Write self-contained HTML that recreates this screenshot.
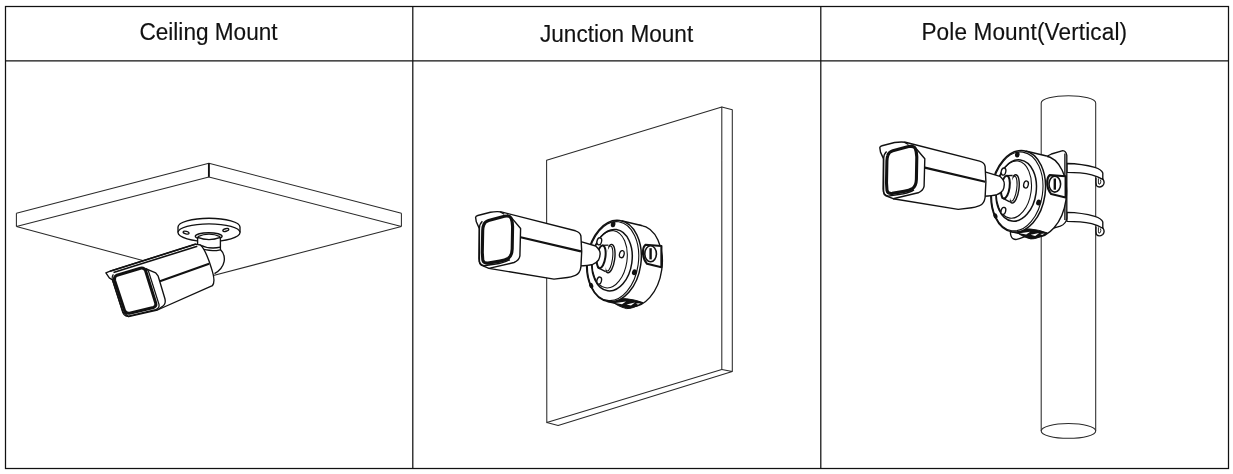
<!DOCTYPE html>
<html><head><meta charset="utf-8"><title>Mount</title>
<style>
html,body{margin:0;padding:0;background:#fff;}
body{width:1233px;height:474px;position:relative;overflow:hidden;font-family:"Liberation Sans",sans-serif;}
.h{position:absolute;top:0;height:30px;line-height:30px;font-size:22.6px;color:#111;text-align:center;white-space:nowrap;}
svg{position:absolute;left:0;top:0;filter:grayscale(1);}
</style></head><body>
<svg width="1233" height="474" viewBox="0 0 1233 474">
<g fill="none" stroke="#111" stroke-width="1.25">
<rect x="5.5" y="6.5" width="1223" height="462"/>
<path d="M5.5,60.8 H1228.5 M412.8,6.5 V468.5 M820.8,6.5 V468.5"/>
</g>

<g id="cell1" stroke-linejoin="round">
  <!-- slab -->
  <path d="M16.4,213.3 L208.9,163.3 L401.4,213.3 M16.4,226.4 L208.9,176.9 L401.4,226.4 M16.4,213.3 V226.4 M401.4,213.3 V226.4 M16.4,226.4 L205.7,277.5 L401.4,226.4" fill="none" stroke="#2a2a2a" stroke-width="1.05"/>
  <path d="M208.9,163.3 V176.9" fill="none" stroke="#111" stroke-width="1.9"/>
  <!-- mount base -->
  <path d="M178,232.6 V227 A31,8.8 0 0 1 240,227 V232.6" fill="#fff" stroke="#111" stroke-width="1.35"/>
  <ellipse cx="209" cy="232.6" rx="31" ry="8.8" fill="#fff" stroke="#111" stroke-width="1.35"/>
  <ellipse cx="186.1" cy="232.6" rx="3" ry="1.3" transform="rotate(14 186.1 232.6)" fill="none" stroke="#111" stroke-width="1.35"/>
  <ellipse cx="225.8" cy="230" rx="3" ry="1.3" transform="rotate(-14 225.8 230)" fill="none" stroke="#111" stroke-width="1.35"/>
  <!-- ball -->
  <path d="M214,250 L220.4,249.6 C226.8,256 225.8,267 214.5,273.6 L208,262 Z" fill="#fff" stroke="none"/>
  <path d="M220.4,249.6 C226.8,256 225.8,267 214.5,273.6" fill="none" stroke="#111" stroke-width="1.35"/>
  <!-- neck -->
  <ellipse cx="208.7" cy="236.3" rx="13.4" ry="3.6" fill="#fff" stroke="#111" stroke-width="1.35"/>
  <path d="M197.6,237.4 V247 Q209,252.5 220.4,249.8 V237.4 Q209,241.8 197.6,237.4 Z" fill="#fff" stroke="#111" stroke-width="1.35"/>
  <path d="M197.8,236.6 Q209,231.6 220.2,236.6" fill="none" stroke="#111" stroke-width="1.35"/>
  <path d="M199,244.6 Q209,249.7 220.4,247.2" fill="none" stroke="#111" stroke-width="1.35"/>
  <!-- body -->
  <path d="M110.1,271.2 L195.8,244.1 L200.6,245.2 C205,249 208.5,258.7 211.6,268.8 C214,276 215.5,282 212.4,285.7 L157.4,310 L128.7,316.7 L123,312 L112.5,280 L109.3,277.9 L105.9,272.8 Z" fill="#fff" stroke="#111" stroke-width="1.35"/>
  <path d="M113.5,272.6 L197.3,246.2" fill="none" stroke="#111" stroke-width="1.6"/>
  <path d="M110.1,271.2 L195.8,244.1" fill="none" stroke="#111" stroke-width="1.6"/>
  <!-- bezel -->
  <path d="M145.6,268.6 L155.7,272.8 L158.2,276.2 L165,299 Q166,303.5 163.3,305.8 L157.4,310" fill="none" stroke="#111" stroke-width="1.35"/>
  <!-- front ring -->
  <path d="M113.4,274.4 Q111.6,276.4 112.2,279 L122.8,312.5 Q124.4,316.6 128.6,316.2 L155.6,309.6 Q159.8,308 159,304.4 L148.6,271.6 Q147.6,269 145.6,268.6" fill="none" stroke="#111" stroke-width="1.3"/>
  <path d="M114.6,280.4 Q113.8,276.6 117,275.2 L140.4,268.2 Q144.2,267.4 145.6,270.8 L155.7,303 Q156.6,306.4 153.4,307.5 L129.6,313.2 Q126,313.7 124.6,310.6 Z" fill="#fff" stroke="#111" stroke-width="3"/>
  <!-- mid line -->
  <path d="M159.9,281.3 L209.1,263.8" fill="none" stroke="#111" stroke-width="2.1"/>
</g>


<g id="cell2" stroke-linejoin="round">
  <path d="M546.6,160.3 L721.8,106.9 V369.4 L546.8,422.6 Z" fill="#fff" stroke="#2a2a2a" stroke-width="1.05"/>
  <path d="M721.8,106.9 L732.3,109.7 V371.5 L721.8,369.4 M546.8,422.6 L558.1,425.5 L732.3,371.5" fill="none" stroke="#2a2a2a" stroke-width="1.05"/>
</g>


<g id="jbox">
  <ellipse cx="635.0" cy="266.0" rx="27.0" ry="41.0" transform="rotate(8 635.0 266.0)" fill="#fff" stroke="#111" stroke-width="1.4"/>
  <polygon points="606.6,301.3 627.6,306.3 642.4,225.7 621.4,220.7" fill="#fff" stroke="none"/>
  <path d="M606.6,301.3 L627.6,306.3 M621.4,220.7 L642.4,225.7" fill="none" stroke="#111" stroke-width="1.4"/>
  <!-- bottom conduit -->
  <path d="M610.3,299.6 Q626,296.4 643,302.6 Q633,309 626.5,308.6 Q616,306 610.3,299.6 Z" fill="#111" stroke="#111" stroke-width="1"/>
  <path d="M615.5,303 L626,301.4 L622,304.2 Z M626.5,304.4 L635,302.6 L631,305.6 Z M636,303.6 L640.5,303.2 L638,304.8 Z" fill="#fff" stroke="none"/>
  <!-- front face -->
  <ellipse cx="614.0" cy="261.0" rx="27.0" ry="41.0" transform="rotate(8 614.0 261.0)" fill="#fff" stroke="#111" stroke-width="1.5"/>
  <ellipse cx="613.1" cy="261.1" rx="25.3" ry="39.7" transform="rotate(8 613.1 261.1)" fill="none" stroke="#111" stroke-width="1.1"/>
  <!-- plate -->
  <ellipse cx="612" cy="260.2" rx="20" ry="30.9" transform="rotate(8 612 260.2)" fill="#fff" stroke="#111" stroke-width="1.5"/>
  <ellipse cx="609.7" cy="259.3" rx="17.3" ry="28.8" transform="rotate(8 609.7 259.3)" fill="none" stroke="#111" stroke-width="1.1"/>
  <!-- tube flange -->
  <ellipse cx="609.8" cy="258.6" rx="4.9" ry="14.3" transform="rotate(8 609.8 258.6)" fill="#fff" stroke="#111" stroke-width="1.4"/>
  <ellipse cx="608.9" cy="258.5" rx="3.6" ry="12.6" transform="rotate(8 608.9 258.5)" fill="#fff" stroke="#111" stroke-width="1.1"/>
  <path d="M608.4,245.6 L601.6,245.6 L597.6,267.6 L605.4,271.4 Z" fill="#fff" stroke="none"/>
  <path d="M608.4,245.2 L601.8,245.4 M605.6,271.6 L597.4,267.4" fill="none" stroke="#111" stroke-width="1.3"/>
  <ellipse cx="601.2" cy="256.8" rx="4.2" ry="11.5" transform="rotate(8 601.2 256.8)" fill="#fff" stroke="#111" stroke-width="2"/>
  <!-- screw holes -->
  <ellipse cx="599.3" cy="241.3" rx="2.3" ry="3.6" transform="rotate(14 599.3 241.3)" fill="#fff" stroke="#111" stroke-width="1.3"/>
  <ellipse cx="621.8" cy="254.2" rx="2.3" ry="3.6" transform="rotate(14 621.8 254.2)" fill="#fff" stroke="#111" stroke-width="1.3"/>
  <ellipse cx="599.2" cy="280.6" rx="2.3" ry="3.6" transform="rotate(14 599.2 280.6)" fill="#fff" stroke="#111" stroke-width="1.3"/>
  <!-- dots -->
  <ellipse cx="613.1" cy="224.3" rx="2.3" ry="3" transform="rotate(10 613.1 224.3)" fill="#111"/>
  <ellipse cx="634.4" cy="272.2" rx="2.4" ry="3" transform="rotate(20 634.4 272.2)" fill="#111"/>
  <ellipse cx="591.2" cy="285.6" rx="2" ry="2.8" transform="rotate(-20 591.2 285.6)" fill="#111"/>
  <!-- side plug -->
  <path d="M645.5,244.8 L661.4,246 L661.4,267.2 L647,263.8 Q642.6,258.5 643,251 Q643.3,246.6 645.5,244.8 Z" fill="#fff" stroke="#111" stroke-width="2.1" stroke-linejoin="round"/>
  <ellipse cx="650.6" cy="253.8" rx="5.8" ry="8" fill="#fff" stroke="#111" stroke-width="1.6"/>
  <path d="M650.6,248.2 V259.4" stroke="#111" stroke-width="2.4" fill="none"/>
</g>


<g id="cam">
  <!-- neck -->
  <path d="M580,241.4 L595.7,246 Q600.6,250.5 600.1,254.1 Q600,257.5 598.6,260 Q596.5,263 592.7,264.4 Q588,265.8 580,265.9 Z" fill="#fff" stroke="#111" stroke-width="1.4" stroke-linejoin="round"/>
  <!-- body -->
  <path d="M501.2,211.9 L575.4,230.8 Q580.2,232.2 580.9,236 L581.7,251.4 L580.9,267.2 Q580,273.6 575.4,275.3 Q570.5,277.1 567.5,277.5 L554,279.1 L488.9,268.4 L481.2,265.2 Q479.6,264.2 479.4,261.6 L479.4,228.6 L476.3,221.8 L475.6,217.4 Q475.8,216 477.8,215.5 L490.4,212.2 Q496.2,211.3 501.2,211.9 Z" fill="#fff" stroke="#111" stroke-width="1.4" stroke-linejoin="round"/>
  <g transform="translate(0.2,0.6)">
  <path d="M499.8,211.2 L504,213.6" fill="none" stroke="#111" stroke-width="1.3"/>
  <!-- bezel side -->
  <path d="M507,214 L512.3,218.3 L520.4,227.9 L519.7,255.2 Q519,259.6 513.8,261.9 L488.7,267.8" fill="none" stroke="#111" stroke-width="1.4" stroke-linejoin="round"/>
  <!-- outer thin ring (left/bottom) -->
  <path d="M482.2,220.6 Q479.4,223 479.1,228 L478.7,258 Q478.8,264.4 483.8,265.2 L499,262.9 Q506,261.4 509.6,259" fill="none" stroke="#111" stroke-width="1.4"/>
  <!-- thick inner ring -->
  <path d="M483.5,224.4 Q484.4,221 488.4,219.8 L504.2,215.7 Q509.2,214.7 510.8,217.4 Q512.2,220.6 512.4,226 L512,248.4 Q511.8,255.2 508,257.8 Q505,259.6 499.6,260.5 L487.8,262.5 Q483.4,263 482.6,259.4 L482.1,252 L482.5,230 Q482.6,226.4 483.5,224.4 Z" fill="#fff" stroke="#111" stroke-width="3.1" stroke-linejoin="round"/>
  </g>
  <!-- mid line -->
  <path d="M520.6,237.3 L581,251.4" fill="none" stroke="#111" stroke-width="2.2"/>
</g>


<g id="cell3" stroke-linejoin="round">
  <!-- pole -->
  <path d="M1041.2,430.9 V103 A27.25,7.3 0 0 1 1095.7,103 V430.9" fill="#fff" stroke="#2a2a2a" stroke-width="1.05"/>
  <ellipse cx="1068.45" cy="430.9" rx="27.25" ry="7.4" fill="#fff" stroke="#2a2a2a" stroke-width="1.05"/>
  <!-- straps -->
  <g id="strap">
    <path d="M1066.9,163.5 Q1082,163.8 1094.8,167.4 Q1101.6,169.6 1102.8,173 V179.4 Q1098,176.4 1091.7,174.8 Q1081,172.4 1066.9,172.4 Z" fill="#fff" stroke="#111" stroke-width="1.35"/>
    <path d="M1102.8,179 Q1105.4,182.5 1102.8,185.6 Q1099,188.4 1096.4,185.6 Q1095.6,182 1096,177.6" fill="none" stroke="#111" stroke-width="1.35"/>
    <path d="M1100.4,179.6 Q1101.6,182 1100,184 Q1098.6,184.8 1098.4,183 V178.4" fill="none" stroke="#111" stroke-width="0.9"/>
  </g>
  <use href="#strap" transform="translate(0,48.9)"/>
  <!-- bracket plate -->
  <path d="M1040,160 L1051.4,154 L1062.8,150.7 Q1066,151 1066.8,155.3 V218.5 Q1066,224 1060.3,226.1 L1047.6,229.9 L1040,232.5 Z" fill="#fff" stroke="#111" stroke-width="1.35"/>
  <path d="M1064.9,153.5 V220" fill="none" stroke="#111" stroke-width="1.35"/>
</g>

<path d="M1010.4,232 Q1010.4,236.8 1013,238.7 Q1015.6,240.2 1019.4,238.7 L1027,235.8" fill="none" stroke="#111" stroke-width="1.35"/>
<g transform="translate(404.2,-69.7)"><use href="#jbox"/><use href="#cam"/></g>
<g font-family="Liberation Sans, sans-serif" font-size="22.6" fill="#111" stroke="#111" stroke-width="0.15" text-anchor="middle">
<text transform="translate(208.5,39.9) scale(1,1.02)">Ceiling Mount</text>
<text transform="translate(616.6,41.9) scale(1,1.02)">Junction Mount</text>
<text transform="translate(1024.3,39.8) scale(1,1.02)" letter-spacing="0.12">Pole Mount(Vertical)</text>
</g>
</svg>
</body></html>
